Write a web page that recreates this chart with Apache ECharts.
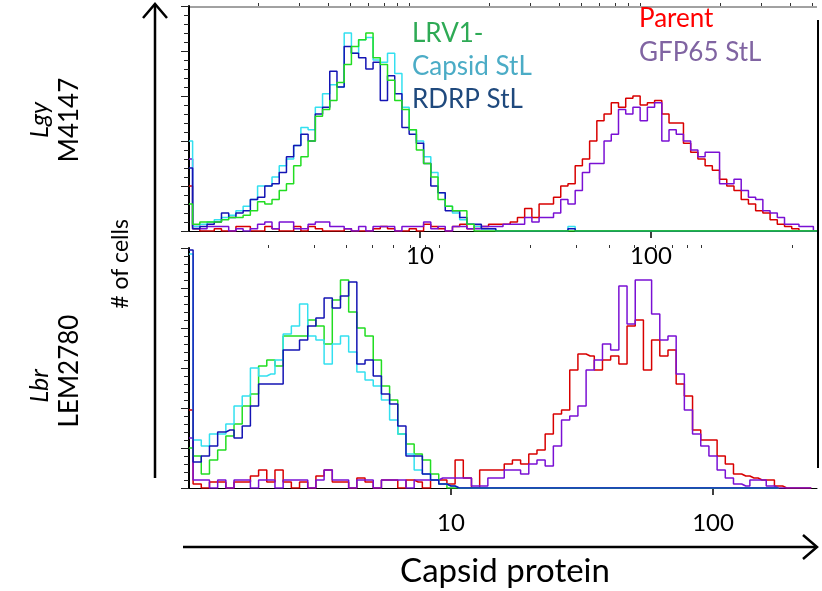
<!DOCTYPE html>
<html>
<head>
<meta charset="utf-8">
<script src="https://cdn.jsdelivr.net/npm/echarts@6/dist/echarts.min.js"></script>
<style>
html,body{margin:0;padding:0;background:#fff}
#chart{width:822px;height:591px}
</style>
</head>
<body>
<div id="chart"></div>
<script>
// histogram channels: 64 per decade, counts read every 2 channels
var chPerDecade = 64;
var binStep = 2;
var tickLabels = ['10', '100'];
var minorTickValues = [2, 3, 4, 5, 6, 7, 8, 9, 20, 30, 40, 50, 60, 70, 80, 90, 200, 300, 400, 500];

// Lgy M4147 (top panel), channels 0..174
var topGreen = [12,3,4,4,4,5,6,6,7,9,13,12,14,18,21,29,33,40,51,54,58,66,74,82,85,88,77,74,67,58,54,45,36,30,24,14,11,9,9,3,0,
  0,0,0,0,0,0,0,0,0,0,0,0,0,0,0,0,0,0,0,0,0,0,0,0,0,0,0,0,0,0,0,0,0,0,0,0,0,0,0,0,0,0,0,0,0,0,0];
var topCyan = [40,2,3,4,5,6,7,9,11,14,20,20,24,29,32,38,46,45,55,61,65,64,88,79,85,86,76,75,79,70,55,45,40,33,26,17,11,8,5,3,2,1,1,0,
  0,0,0,0,0,0,0,0,0,2,
  0,0,0,0,0,0,0,0,0,0,0,0,0,0,0,0,0,0,0,0,0,0,0,0,0,0,0,0,0,0,0,0,0,0];
var topBlue = [28,1,2,3,4,8,6,8,9,14,15,20,21,26,33,38,43,40,52,55,71,64,82,79,77,72,75,58,69,61,46,43,39,30,20,17,9,9,6,3,3,1,1,0,
  0,0,0,0,0,0,0,0,0,1,
  0,0,0,0,0,0,0,0,0,0,0,0,0,0,0,0,0,0,0,0,0,0,0,0,0,0,0,0,0,0,0,0,0,0];
var topRed = [20,1,0,0,1,0,0,2,2,0,0,2,1,0,0,2,0,2,1,0,0,0,1,0,0,0,1,2,1,0,0,1,0,3,2,1,0,2,3,1,2,
  2,3,3,3,4,6,10,6,12,12,15,20,21,29,32,40,49,52,57,55,59,60,56,57,58,52,48,48,39,35,32,29,27,23,20,18,14,12,9,8,5,3,2,1,0,0,0];
var topPurple = [32,2,1,2,2,2,0,1,0,1,3,4,1,4,4,1,1,3,4,4,2,2,1,0,2,0,2,2,2,0,2,2,2,4,1,2,0,2,2,1,1,
  2,2,2,3,3,3,6,4,6,6,8,14,12,18,26,30,30,40,43,54,52,55,49,55,57,40,45,43,40,36,33,35,35,21,21,23,18,15,14,9,8,6,3,3,2,2,0];

// Lbr LEM2780 (bottom panel), channels 0..152
var botCyan = [117,24,21,27,27,32,41,46,60,56,57,64,77,81,92,76,74,62,72,76,68,58,54,51,44,34,27,17,9,7,4,2,1,0,
  0,0,0,0,0,0,0,0,0,0,0,0,0,0,0,0,0,0,0,0,0,0,0,0,0,0,0,0,0,0,0,0,0,0,0,0,0,0,0];
var botBlue = [119,13,16,21,28,29,25,31,41,52,52,52,69,69,74,81,85,95,90,96,103,62,64,56,47,42,31,16,16,7,4,2,1,0,
  0,0,0,0,0,0,0,0,0,0,0,0,0,0,0,0,0,0,0,0,0,0,0,0,0,0,0,0,0,0,0,0,0,0,0,0,0,0,0];
var botGreen = [20,16,7,14,19,26,32,41,47,61,64,61,76,76,76,84,81,72,94,104,88,80,76,64,51,44,27,22,17,14,7,2,0,0,
  0,0,0,0,0,0,0,0,0,0,0,0,0,0,0,0,0,0,0,0,0,0,0,0,0,0,0,0,0,0,0,0,0,0,0,0,0,0,0];
var botRed = [39,2,0,3,3,0,3,3,6,9,3,9,3,0,3,0,6,9,3,3,0,5,3,0,4,4,0,4,3,0,4,
  4,2,14,5,0,9,9,9,12,14,12,17,19,27,37,39,59,67,66,59,64,66,62,81,84,59,74,66,69,52,46,29,24,24,16,12,7,6,5,4,4,1,0,0,0,0];
var botPurple = [25,4,4,0,4,0,4,4,0,4,4,0,4,4,4,0,4,9,4,4,0,4,4,0,4,4,4,0,4,4,4,
  5,5,5,5,1,1,5,5,9,9,7,12,14,11,21,34,36,41,59,64,72,69,101,82,104,104,87,74,76,57,39,27,21,16,9,5,2,1,4,4,1,0,0,0,0,0];

var colors = {
    green: '#22dd22',
    cyan: '#33e0f0',
    blue: '#1414b4',
    red: '#d80000',
    purple: '#7a10d4'
};

var txtFont = 'Lato, "Open Sans", sans-serif';

function chan(v) {
    return chPerDecade * Math.log10(v);
}

function mk(name, counts, color, idx, z) {
    return {
        name: name,
        type: 'line',
        xAxisIndex: idx * 2,
        yAxisIndex: idx,
        step: 'middle',
        showSymbol: false,
        silent: true,
        z: z,
        lineStyle: { color: color, width: 1.5 },
        data: counts.map(function (v, i) { return [i * binStep, v]; })
    };
}

function mainX(grid, max, margin) {
    return {
        type: 'value', gridIndex: grid, min: 0, max: max,
        axisLine: { show: true, lineStyle: { color: '#000', width: 1 } },
        axisTick: { show: true, length: 7, customValues: [chan(10), chan(100)], lineStyle: { color: '#000', width: 1.5 } },
        axisLabel: {
            show: true, margin: margin, customValues: [chan(10), chan(100)],
            color: '#000', fontSize: 24, fontFamily: txtFont,
            formatter: function (v) { return Math.round(v) === chPerDecade ? tickLabels[0] : tickLabels[1]; }
        },
        splitLine: { show: false }
    };
}

function minorX(grid, max) {
    return {
        type: 'value', gridIndex: grid, min: 0, max: max,
        axisLine: { show: false },
        axisTick: { show: true, length: 3, customValues: minorTickValues.map(chan).filter(function (c) { return c < max; }), lineStyle: { color: '#333' } },
        axisLabel: { show: false },
        splitLine: { show: false }
    };
}

function mainY(grid, max) {
    return {
        type: 'value', gridIndex: grid, min: 0, max: max, interval: 20,
        axisLine: { show: true, lineStyle: { color: '#000', width: 2 } },
        axisTick: { show: true, length: 8, lineStyle: { color: '#222' } },
        minorTick: { show: true, splitNumber: 5, length: 5, lineStyle: { color: '#222' } },
        axisLabel: { show: false },
        splitLine: { show: false }
    };
}

function vtext(x, y, str, size, italic) {
    return {
        type: 'text', x: x, y: y, rotation: Math.PI / 2,
        style: {
            text: str, fill: '#000', font: (italic ? 'italic ' : '') + size + 'px ' + txtFont,
            align: 'center', verticalAlign: 'middle'
        }
    };
}

function ltext(x, y, str, color) {
    return {
        type: 'text', x: x, y: y,
        style: { text: str, fill: color, font: '26px ' + txtFont, align: 'left', verticalAlign: 'middle' }
    };
}

var myChart = echarts.init(document.getElementById('chart'));

option = {
    animation: false,
    backgroundColor: '#fff',
    grid: [
        { left: 189, top: 6, width: 628, height: 225 },
        { left: 189, top: 248, width: 628, height: 240 }
    ],
    xAxis: [
        mainX(0, 174, 13), minorX(0, 174),
        mainX(1, 153.4, 23), minorX(1, 153.4)
    ],
    yAxis: [mainY(0, 100), mainY(1, 120)],
    series: [
        mk('Parent', topRed, colors.red, 0, 2),
        mk('GFP65 StL', topPurple, colors.purple, 0, 3),
        mk('Capsid StL', topCyan, colors.cyan, 0, 4),
        mk('RDRP StL', topBlue, colors.blue, 0, 5),
        mk('LRV1-', topGreen, colors.green, 0, 6),
        mk('Parent', botRed, colors.red, 1, 2),
        mk('GFP65 StL', botPurple, colors.purple, 1, 3),
        mk('LRV1-', botGreen, colors.green, 1, 4),
        mk('Capsid StL', botCyan, colors.cyan, 1, 5),
        mk('RDRP StL', botBlue, colors.blue, 1, 6)
    ],
    graphic: [
        // frame pieces
        { type: 'line', shape: { x1: 189, y1: 7, x2: 817, y2: 7 }, style: { stroke: '#444', lineWidth: 1 } },
        { type: 'line', shape: { x1: 818, y1: 20, x2: 818, y2: 468 }, style: { stroke: '#000', lineWidth: 2 } },
        // arrows
        { type: 'line', shape: { x1: 155, y1: 478, x2: 155, y2: 4 }, style: { stroke: '#000', lineWidth: 2.5 } },
        { type: 'polyline', shape: { points: [[143, 18], [155, 4], [167, 18]] }, style: { stroke: '#000', lineWidth: 2.5, fill: null } },
        { type: 'line', shape: { x1: 183, y1: 547, x2: 816, y2: 547 }, style: { stroke: '#000', lineWidth: 2.5 } },
        { type: 'polyline', shape: { points: [[803, 535], [817, 547], [803, 559]] }, style: { stroke: '#000', lineWidth: 2.5, fill: null } },
        // side labels
        vtext(40, 120, 'Lgy', 25, true),
        vtext(70, 120, 'M4147', 26, false),
        vtext(121, 264, '# of cells', 23, false),
        vtext(40, 386, 'Lbr', 25, true),
        vtext(70, 371, 'LEM2780', 26, false),
        {
            type: 'text', x: 505, y: 571,
            style: { text: 'Capsid protein', fill: '#000', font: '33px ' + txtFont, align: 'center', verticalAlign: 'middle' }
        },
        // legend texts
        ltext(412, 34, 'LRV1-', '#2eaa55'),
        ltext(412, 67, 'Capsid StL', '#4bacc6'),
        ltext(412, 100, 'RDRP StL', '#1f497d'),
        ltext(639, 19, 'Parent', '#ff0000'),
        ltext(639, 53, 'GFP65 StL', '#8064a2')
    ]
};
myChart.setOption(option);
</script>
</body>
</html>
